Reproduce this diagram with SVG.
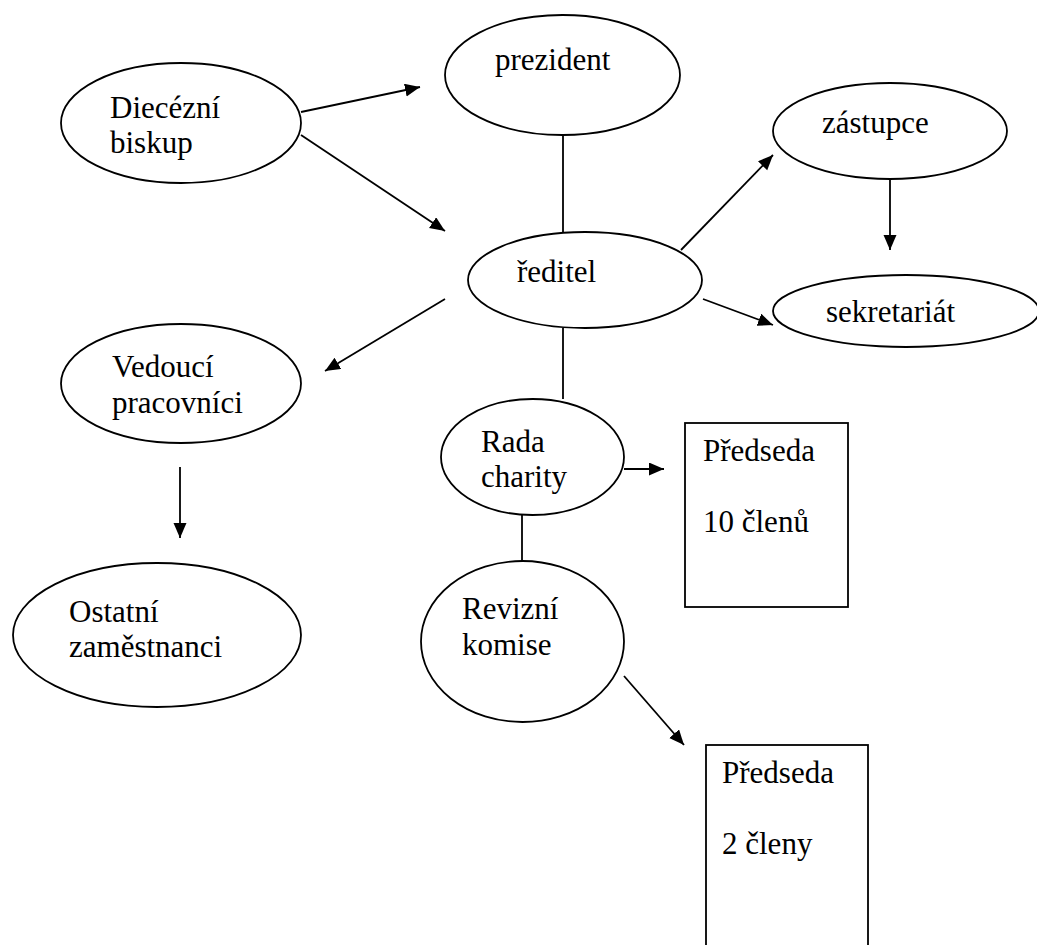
<svg xmlns="http://www.w3.org/2000/svg" width="1037" height="945" viewBox="0 0 1037 945">
<defs>
<marker id="arr" markerUnits="userSpaceOnUse" markerWidth="16" markerHeight="14" refX="15" refY="6.5" orient="auto">
<path d="M0,0 L15,6.5 L0,13 z" fill="#000"/>
</marker>
<style>
.n{fill:#fff;stroke:#000;stroke-width:1.8}
.t{font-family:"Liberation Serif","Times New Roman",serif;font-size:31px;fill:#000}
.c line{stroke:#000;stroke-width:1.8}
.a{marker-end:url(#arr)}
</style>
</defs>
<rect width="1037" height="945" fill="#fff"/>
<g class="c" id="connectors">
<line class="a" x1="301" y1="112" x2="420" y2="87"/>
<line class="a" x1="301" y1="135" x2="445" y2="231"/>
<line x1="563" y1="135" x2="563" y2="232"/>
<line class="a" x1="681" y1="250" x2="773" y2="155"/>
<line class="a" x1="890" y1="179" x2="890" y2="250"/>
<line class="a" x1="703" y1="299" x2="773" y2="325"/>
<line class="a" x1="445" y1="299" x2="325" y2="371"/>
<line x1="563" y1="328" x2="563" y2="399"/>
<line class="a" x1="180" y1="467" x2="180" y2="538"/>
<line class="a" x1="624" y1="469" x2="664" y2="469"/>
<line x1="522" y1="514" x2="522" y2="561"/>
<line class="a" x1="624" y1="676" x2="684" y2="745"/>
</g>
<g id="biskup">
<ellipse class="n" cx="181" cy="123" rx="120" ry="60"/>
<text class="t" x="110" y="118">Diecézní</text>
<text class="t" x="110" y="153">biskup</text>
</g>
<g id="prezident">
<ellipse class="n" cx="562.5" cy="75" rx="117.5" ry="60"/>
<text class="t" x="495" y="70">prezident</text>
</g>
<g id="reditel">
<ellipse class="n" cx="585" cy="280" rx="117" ry="48"/>
<text class="t" x="517" y="282">ředitel</text>
</g>
<g id="zastupce">
<ellipse class="n" cx="890" cy="131" rx="117" ry="48"/>
<text class="t" x="822" y="133">zástupce</text>
</g>
<g id="sekretariat">
<ellipse class="n" cx="906" cy="311" rx="133" ry="36"/>
<text class="t" x="826" y="322">sekretariát</text>
</g>
<g id="vedouci">
<ellipse class="n" cx="181" cy="383.5" rx="120" ry="59.5"/>
<text class="t" x="112" y="377">Vedoucí</text>
<text class="t" x="112" y="413">pracovníci</text>
</g>
<g id="ostatni">
<ellipse class="n" cx="157" cy="635" rx="144" ry="72"/>
<text class="t" x="69" y="622">Ostatní</text>
<text class="t" x="69" y="657">zaměstnanci</text>
</g>
<g id="rada">
<ellipse class="n" cx="532.5" cy="457" rx="91.5" ry="58"/>
<text class="t" x="481" y="452">Rada</text>
<text class="t" x="481" y="487">charity</text>
</g>
<g id="rada-box">
<rect class="n" x="685" y="423" width="163" height="184"/>
<text class="t" x="703" y="461">Předseda</text>
<text class="t" x="703" y="532">10 členů</text>
</g>
<g id="revizni">
<ellipse class="n" cx="522.5" cy="641.5" rx="101.5" ry="80.5"/>
<text class="t" x="462" y="619">Revizní</text>
<text class="t" x="462" y="655">komise</text>
</g>
<g id="revizni-box">
<rect class="n" x="706" y="745" width="162" height="220"/>
<text class="t" x="722" y="783">Předseda</text>
<text class="t" x="722" y="854">2 členy</text>
</g>
</svg>
